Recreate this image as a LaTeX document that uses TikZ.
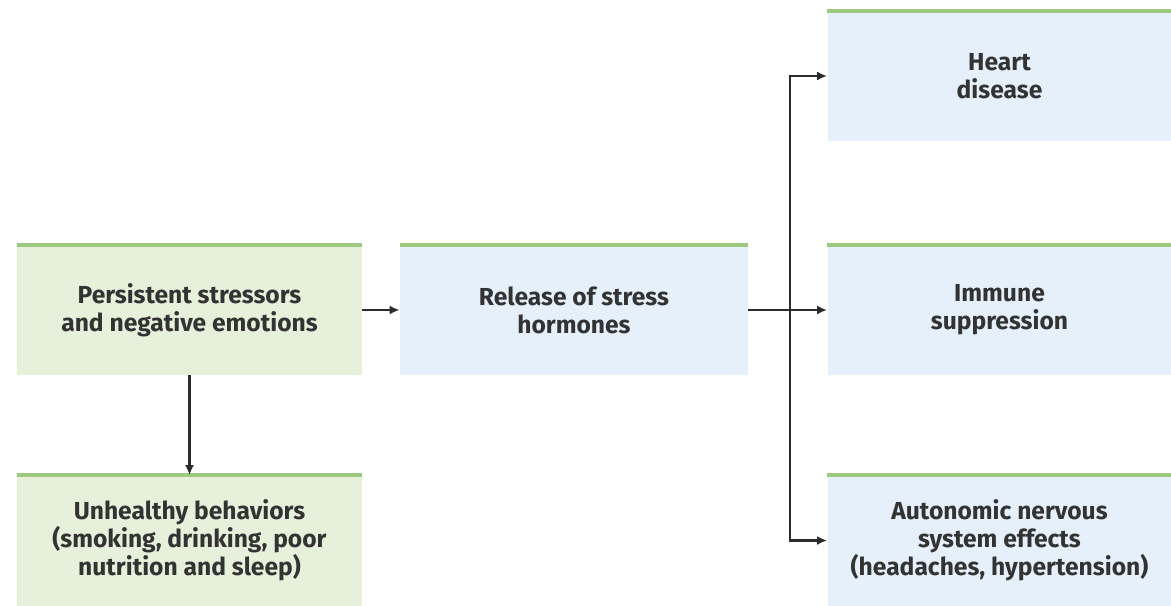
\documentclass[tikz,border=0pt]{standalone}
\usepackage{fontspec}
\setmainfont{Fira Sans}
\usetikzlibrary{arrows.meta}
\definecolor{stressgreen}{HTML}{E7F0DA}
\definecolor{stressblue}{HTML}{E5F0FB}
\definecolor{topgreen}{HTML}{9CC97E}
\definecolor{linkgray}{HTML}{2B2B2B}
\begin{document}
\begin{tikzpicture}[x=0.5pt,y=-0.5pt,
        box/.style={draw=none,minimum height=65pt,inner sep=0pt,align=center,
            font=\fontsize{12.3}{14}\selectfont\bfseries,text=black!80},
        greenbox/.style={box,fill=stressgreen,minimum width=172.5pt},
        bluebox/.style={box,fill=stressblue,minimum width=172pt},
        topline/.style={topgreen,line width=2pt},
        link/.style={linkgray,line width=1.2pt,-{Latex[length=5pt,width=4.5pt]}}]
\useasboundingbox (0,0) rectangle (1171,605);

\node[greenbox] (stress) at (189.5,310) {Persistent stressors\\and negative emotions};
\node[bluebox,minimum width=174pt] (hormones) at (574,310) {Release of stress\\hormones};
\node[greenbox] (behav) at (189.5,540.5) {Unhealthy behaviors\\(smoking, drinking, poor\\nutrition and sleep)};

\node[bluebox] (heart) at (999.5,76) {Heart\\disease};
\node[bluebox] (immune) at (999.5,310) {Immune\\suppression};
\node[bluebox] (auto) at (999.5,540.5) {Autonomic nervous\\system effects\\(headaches, hypertension)};

% green rules on top of the boxes
\foreach \b in {stress,hormones,behav,heart,immune,auto}
    \draw[topline] (\b.north west) -- (\b.north east);

\coordinate (fork) at (790,310);

\draw[link] (stress) -- (hormones);
\draw[link] (stress) -- (behav);
\draw[link] (hormones) -- (immune);
\draw[link] (fork) |- (heart.west);
\draw[link] (fork) |- (auto.west);

\end{tikzpicture}
\end{document}
